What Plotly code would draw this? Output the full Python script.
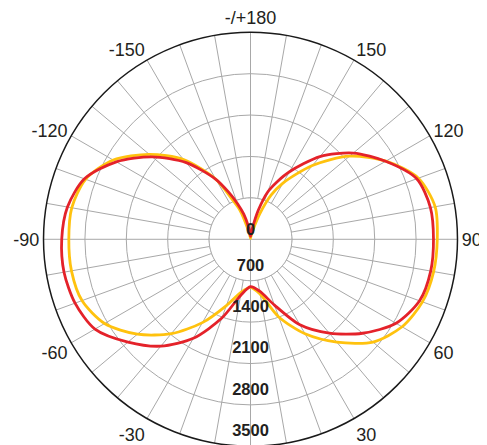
import plotly.graph_objects as go

# ---- data (luminous intensity, cd) ----
angles = [0, 10, 20, 30, 40, 50, 60, 70, 80, 90, 100, 110, 120, 130, 140, 150,
          155, 160, 165, 170, 175, 180, 185, 190, 195, 200, 205,
          210, 220, 230, 240, 250, 260, 270, 280, 290, 300, 310, 320, 330, 340, 350, 360]

red_values = [800, 891, 1185, 1670, 2073, 2472, 2842, 3042, 3094, 3094, 3089, 2991, 2638, 2269, 1826, 1319,
              1079, 852, 507, 203, 85, 51, 101, 237, 440, 641, 884,
              1172, 1692, 2168, 2619, 2988, 3143, 3192, 3202, 3157, 3037, 2704, 2359, 1933, 1417, 964, 800]

yellow_values = [812, 942, 1397, 1845, 2269, 2704, 2959, 3094, 3145, 3158, 3170, 3021, 2644, 2185, 1628, 1097,
                 822, 457, 169, 68, 34, 17, 34, 68, 203, 528, 761,
                 1173, 1760, 2235, 2680, 2967, 3069, 3072, 3074, 3032, 2849, 2497, 2083, 1627, 1192, 906, 812]

radial_ticks = [0, 700, 1400, 2100, 2800, 3500]
radial_labels = ["0", "700", "1400", "2100", "2800", "3500"]

angular_ticks = list(range(0, 360, 10))


def angle_label(t):
    if t % 30 != 0 or t == 0:
        return ""
    if t == 180:
        return "-/+180"
    return str(t) if t < 180 else str(t - 360)


angular_labels = [angle_label(t) for t in angular_ticks]

GRID = "#a8a8a8"
RED = "#e4222a"
YELLOW = "#ffc20e"
inner = radial_ticks[1]
label_lift = 100  # labels sit just inside their circle

fig = go.Figure()

# inner white disc (spokes start at the first circle)
circle_theta = list(range(0, 361, 2))
fig.add_trace(go.Scatterpolar(
    r=[inner] * len(circle_theta), theta=circle_theta, mode="lines",
    fill="toself", fillcolor="white", line=dict(color=GRID, width=1),
    hoverinfo="skip", showlegend=False))
# main cross lines passing through the inner disc
fig.add_trace(go.Scatterpolar(
    r=[inner, 0, inner], theta=[90, 90, 270], mode="lines",
    line=dict(color=GRID, width=1), hoverinfo="skip", showlegend=False))
fig.add_trace(go.Scatterpolar(
    r=[inner, 0, inner], theta=[0, 0, 180], mode="lines",
    line=dict(color=GRID, width=1), hoverinfo="skip", showlegend=False))

fig.add_trace(go.Scatterpolar(
    r=yellow_values, theta=angles, mode="lines",
    line=dict(color=YELLOW, width=2.8, shape="spline", smoothing=0.8), showlegend=False))
fig.add_trace(go.Scatterpolar(
    r=red_values, theta=angles, mode="lines",
    line=dict(color=RED, width=2.8, shape="spline", smoothing=0.8), showlegend=False))

# radial value labels along the 0° spoke
fig.add_trace(go.Scatterpolar(
    r=[max(v - label_lift, 0) for v in radial_ticks], theta=[0] * len(radial_ticks),
    mode="text", text=radial_labels, textposition="top center",
    textfont=dict(family="Liberation Sans", size=16.5, color="#231f20", weight="bold"),
    hoverinfo="skip", showlegend=False, cliponaxis=False))

fig.update_layout(
    width=487, height=445,
    margin=dict(l=0, r=0, t=0, b=0),
    paper_bgcolor="white",
    showlegend=False,
    polar=dict(
        domain=dict(x=[0.0729, 0.923], y=[0.0151, 0.9454]),
        bgcolor="white",
        angularaxis=dict(
            rotation=270, direction="counterclockwise",
            tickmode="array", tickvals=angular_ticks, ticktext=angular_labels,
            ticks="", showline=True, linecolor="#1a1a1a", linewidth=1.5,
            showgrid=True, gridcolor=GRID, gridwidth=1,
            tickfont=dict(family="Liberation Sans", size=18, color="#231f20"),
        ),
        radialaxis=dict(
            range=[0, 3500], tickmode="array", tickvals=radial_ticks[1:],
            showticklabels=False, ticks="", showline=False,
            showgrid=True, gridcolor=GRID, gridwidth=1,
        ),
    ),
)

fig.write_html("out.html")
